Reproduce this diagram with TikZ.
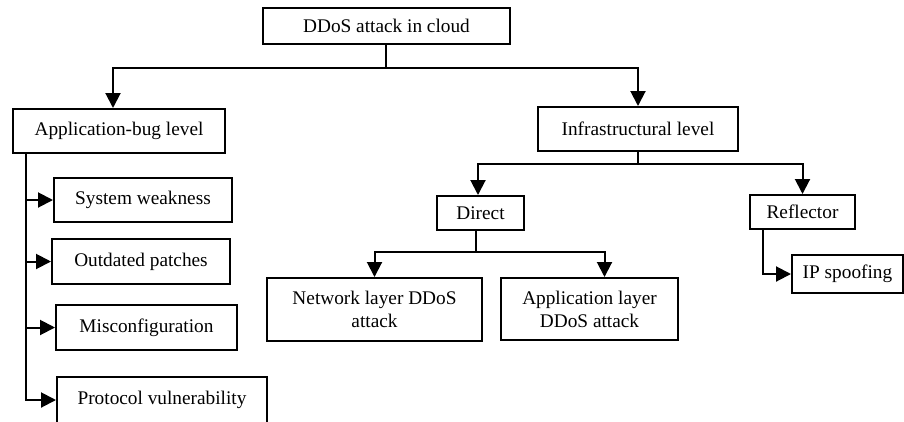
\documentclass[tikz,border=0pt]{standalone}
\usepackage{fontspec}
\setmainfont{Liberation Serif}
\usetikzlibrary{arrows.meta}
\begin{document}
\begin{tikzpicture}[x=1pt,y=-1pt,
  box/.style={draw, line width=2pt, inner sep=0pt, align=center,
    font=\fontsize{19.3}{23}\selectfont},
  link/.style={line width=2pt},
  arr/.style={link, -{Triangle[length=15pt,width=15pt]}}]
\useasboundingbox (0,0) rectangle (904,421);
\clip (0,0) rectangle (904,421);
\fill[white] (0,0) rectangle (904,421);
% nodes
\node[box, minimum width=247pt, minimum height=36pt] (root) at (386.5,26) {DDoS attack in cloud};
\node[box, minimum width=212pt, minimum height=44pt] (appbug) at (119,131) {Application-bug level};
\node[box, minimum width=200pt, minimum height=44pt] (infra) at (638,129) {Infrastructural level};
\node[box, minimum width=87pt, minimum height=34pt] (direct) at (480.5,213) {Direct};
\node[box, minimum width=105pt, minimum height=34pt] (reflector) at (802.5,212) {Reflector};
\node[box, minimum width=215pt, minimum height=63pt] (network) at (374.5,309.5) {Network layer DDoS\\attack};
\node[box, minimum width=177pt, minimum height=62pt] (applayer) at (589.5,309) {Application layer\\DDoS attack};
\node[box, minimum width=111pt, minimum height=38pt] (ip) at (847.5,274) {IP spoofing};
\node[box, minimum width=178pt, minimum height=44pt] (sysweak) at (143,200) {System weakness};
\node[box, minimum width=178pt, minimum height=45pt] (outdated) at (141,261.5) {Outdated patches};
\node[box, minimum width=181pt, minimum height=45pt] (misconf) at (146.5,327.5) {Misconfiguration};
\node[box, minimum width=210pt, minimum height=46pt] (protocol) at (162,400) {Protocol vulnerability};
% junctions
\coordinate (j1) at (386,68);
\coordinate (j2) at (638,164);
\coordinate (j3) at (476,252);
% connectors
\draw[link] ([xshift=-0.5pt]root.south) -- (j1);
\draw[arr] (j1) -| ([xshift=-6pt]appbug.north);
\draw[arr] (j1) -| (infra.north);
\draw[link] (infra.south) -- (j2);
\draw[arr] (j2) -| ([xshift=-2.5pt]direct.north);
\draw[arr] (j2) -| (reflector.north);
\draw[link] ([xshift=-4.5pt]direct.south) -- (j3);
\draw[arr] (j3) -| (network.north);
\draw[arr] (j3) -| ([xshift=15pt]applayer.north);
\draw[arr] ([xshift=-39.5pt]reflector.south) |- (ip.west);
\draw[arr] ([xshift=-93pt]appbug.south) |- (sysweak.west);
\draw[arr] ([xshift=-93pt]appbug.south) |- (outdated.west);
\draw[arr] ([xshift=-93pt]appbug.south) |- (misconf.west);
\draw[arr] ([xshift=-93pt]appbug.south) |- (protocol.west);
\end{tikzpicture}
\end{document}
